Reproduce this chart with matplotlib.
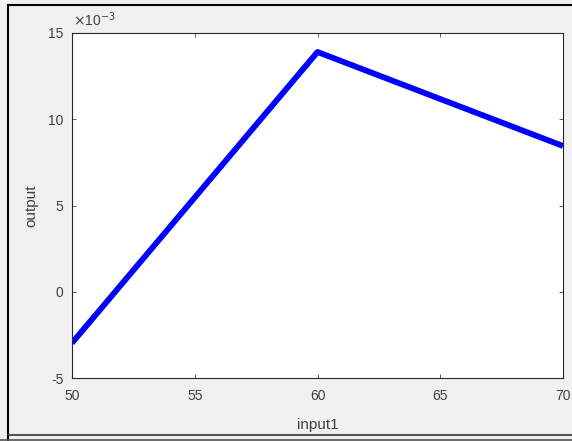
import matplotlib
matplotlib.use("Agg")
import matplotlib.pyplot as plt
from matplotlib.lines import Line2D

# data
input1 = [50, 60, 70]
output = [-2.97e-3, 13.9e-3, 8.45e-3]

plt.rcParams['font.family'] = ['Liberation Sans', 'DejaVu Sans']

W, H = 572, 441
fig = plt.figure(figsize=(W / 100, H / 100), dpi=100, facecolor='#f0f0f0')

# axes box in pixels: left 72, right 563, top 33, bottom 378
ax = fig.add_axes([72 / W, 1 - 378 / H, (563 - 72) / W, (378 - 33) / H])
ax.set_facecolor('white')

ax.plot(input1, output, color='#0000ff', lw=4.2, solid_capstyle='butt')

ax.set_xlim(50, 70)
ax.set_ylim(-5e-3, 15e-3)
ax.set_xticks([50, 55, 60, 65, 70])
ax.set_yticks([-5e-3, 0, 5e-3, 10e-3, 15e-3])
ax.set_yticklabels(['-5', '0', '5', '10', '15'])
ax.tick_params(direction='in', length=3, width=0.6, colors='#404040',
               labelsize=10, top=True, right=True, pad=6)
ax.tick_params(axis='x', pad=8)
for s in ax.spines.values():
    s.set_color('#262626')
    s.set_linewidth(0.8)

ax.set_xlabel('input1', fontsize=11, color='#404040', labelpad=11)
ax.set_ylabel('output', fontsize=11, color='#404040', labelpad=7)

# exponent label
fig.text(73 / W, 1 - 20 / H, r'$\times$10$^{-3}$', fontsize=10, color='#404040',
         va='center', ha='left')

# window frame lines
fig.add_artist(Line2D([8 / W, 8 / W], [0, 1 - 5 / H], color='black', lw=1.5))
fig.add_artist(Line2D([8 / W, 1], [1 - 5 / H, 1 - 5 / H], color='black', lw=1.5))
fig.add_artist(Line2D([8 / W, 1], [1 - 435 / H, 1 - 435 / H], color='#333333', lw=1.2))
fig.add_artist(Line2D([0, 1], [1 - 439.5 / H, 1 - 439.5 / H], color='#555555', lw=1.2))

fig.savefig('out.png', dpi=100, facecolor=fig.get_facecolor())
